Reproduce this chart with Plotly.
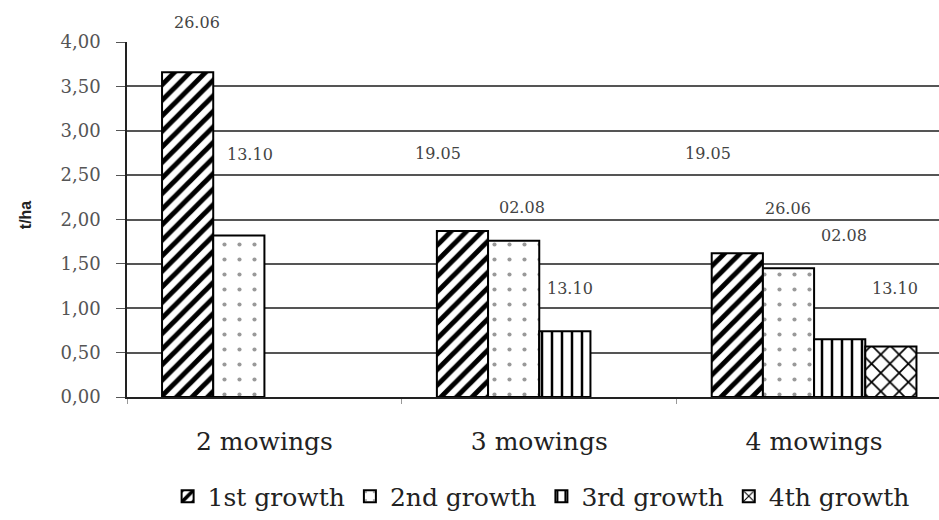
import plotly.graph_objects as go

categories = ["2 mowings", "3 mowings", "4 mowings"]
series_names = ["1st growth", "2nd growth", "3rd growth", "4th growth"]
growth1 = [3.66, 1.87, 1.62]
growth2 = [1.82, 1.76, 1.45]
growth3 = [None, 0.74, 0.65]
growth4 = [None, None, 0.57]
values = [growth1, growth2, growth3, growth4]

# harvest-date labels per category group
date_labels = [
    ["26.06", "13.10"],
    ["19.05", "02.08", "13.10"],
    ["19.05", "26.06", "02.08", "13.10"],
]
# label placement (category offset, paper y) - layout only
label_pos = [
    [(-0.244, 1.055), (-0.053, 0.683)],
    [(-0.367, 0.685), (-0.062, 0.534), (0.113, 0.307)],
    [(-0.385, 0.687), (-0.096, 0.530), (0.109, 0.456), (0.295, 0.307)],
]

pattern_styles = [
    dict(shape="/", size=11, solidity=0.45, fgcolor="black"),
    dict(shape=".", size=15, solidity=0.06, fgcolor="#999"),
    dict(shape="|", size=10, solidity=0.25, fgcolor="black"),
    dict(shape="x", size=13, solidity=0.25, fgcolor="black"),
]

serif = "DejaVu Serif"
fig = go.Figure()
for name, vals, ps in zip(series_names, values, pattern_styles):
    fig.add_trace(go.Bar(
        x=categories, y=vals, name=name,
        marker=dict(color="white",
                    line=dict(color="black", width=2),
                    pattern=dict(bgcolor="white", fgopacity=1, **ps)),
    ))

annotations = []
for gi, (labs, poss) in enumerate(zip(date_labels, label_pos)):
    for lab, (dx, yy) in zip(labs, poss):
        annotations.append(dict(x=gi + dx, y=yy, xref="x", yref="paper", text=lab,
                                xanchor="center", yanchor="middle", showarrow=False,
                                font=dict(family=serif, size=16, color="#444")))
annotations.append(dict(x=-0.124, y=0.513, xref="paper", yref="paper", text="<b>t/ha</b>",
                        xanchor="center", yanchor="middle",
                        textangle=-90, showarrow=False,
                        font=dict(family="Liberation Sans", size=16, color="#222")))

fig.update_layout(
    width=939, height=520,
    margin=dict(l=127, r=0, t=42, b=123),
    paper_bgcolor="white", plot_bgcolor="white",
    barmode="group", bargap=0.255, bargroupgap=0,
    separators=",.",
    showlegend=True,
    legend=dict(orientation="h", x=0.51, y=-0.28, xanchor="center", yanchor="middle",
                font=dict(family=serif, size=25, color="#222"), traceorder="normal"),
    annotations=annotations,
    xaxis=dict(range=[-0.5, 2.4545], showline=True, linecolor="#222", linewidth=1.5,
               ticks="outside", tickson="boundaries", ticklen=5, tickcolor="#999",
               ticklabelstandoff=21,
               tickfont=dict(family=serif, size=25, color="#222")),
    yaxis=dict(range=[0, 4], dtick=0.5, tickformat=".2f", showline=True,
               linecolor="#222", linewidth=1.5, showgrid=True, gridcolor="#555", gridwidth=1.5,
               ticks="outside", ticklen=9, tickcolor="#555", ticklabelstandoff=12,
               tickfont=dict(family=serif, size=18, color="#555")),
)
fig.write_html("out.html")
